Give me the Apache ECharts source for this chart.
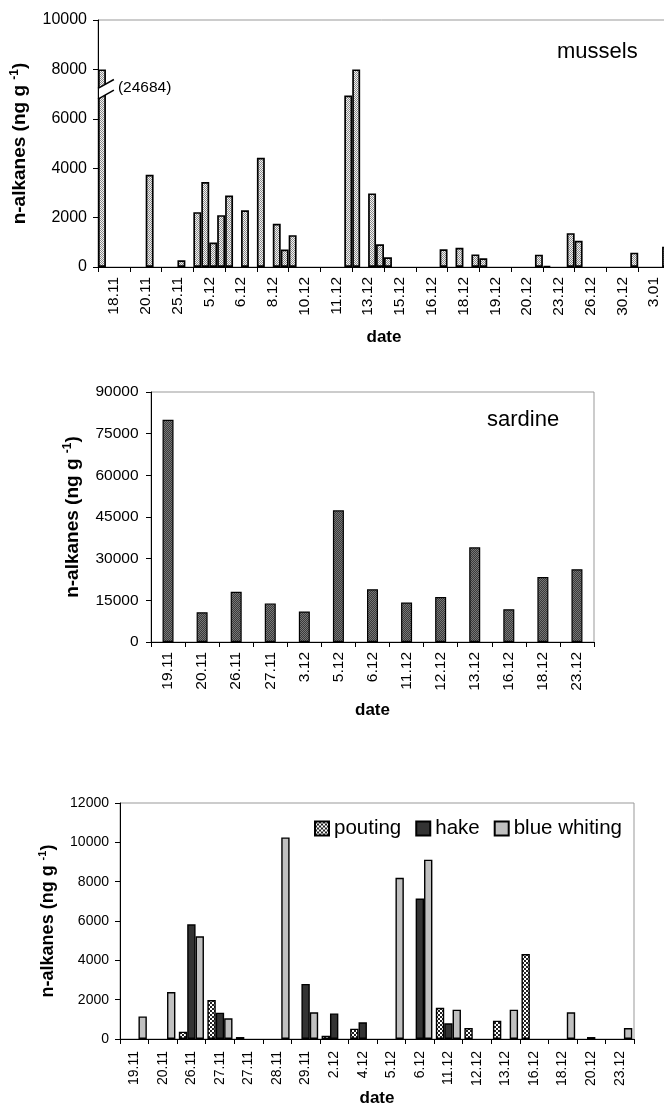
<!DOCTYPE html>
<html>
<head>
<meta charset="utf-8">
<title>n-alkanes</title>
<script src="https://cdn.jsdelivr.net/npm/echarts@6/dist/echarts.min.js"></script>
<style>
html, body { margin: 0; padding: 0; background: #fff; }
#chart { width: 664px; height: 1112px; }
</style>
</head>
<body>
<div id="chart"></div>
<script>
// mussels: four samples per date
var musselDates = ['18.11', '20.11', '25.11', '5.12', '6.12', '8.12', '10.12', '11.12', '13.12',
  '15.12', '16.12', '18.12', '19.12', '20.12', '23.12', '26.12', '30.12', '3.01'];
var musselA = [24684, null, null, 2220, 2890, 4420, 1290, null, 8000, 390, null, null, 350, null, 40, 1060, null, null];
var musselB = [null, null, null, 3440, null, null, null, null, null, null, null, 780, null, null, null, null, null, null];
var musselC = [null, 3730, 270, 990, 2300, 1750, null, null, 2980, null, null, null, null, null, null, null, null, null];
var musselD = [null, null, null, 2100, null, 710, null, 6940, 920, null, 720, 510, null, 500, 1370, null, 580, 820];
var musselCut = 8000; // bars above this are drawn broken

// sardine
var sardineDates = ['19.11', '20.11', '26.11', '27.11', '3.12', '5.12', '6.12', '11.12', '12.12', '13.12', '16.12', '18.12', '23.12'];
var sardineValues = [80000, 10700, 18100, 13900, 11000, 47400, 19000, 14200, 16200, 34100, 11800, 23400, 26200];

// pouting, hake, blue whiting
var fishDates = ['19.11', '20.11', '26.11', '27.11', '27.11', '28.11', '29.11', '2.12', '4.12', '5.12',
  '6.12', '11.12', '12.12', '13.12', '16.12', '18.12', '20.12', '23.12'];
var pouting = [null, null, 370, 1980, 100, null, null, 170, 525, null, null, 1590, 560, 930, 4320, null, null, null];
var hake = [null, null, 5830, 1340, null, null, 2800, 1300, 850, null, 7140, 800, null, null, null, null, 100, null];
var blueWhiting = [1150, 2390, 5220, 1050, null, 10250, 1360, null, null, 8200, 9120, 1490, null, 1490, null, 1360, null, 560];

var FONT = '"Liberation Sans", Arial, sans-serif';

function checker(c1, c2, cell) {
  var cv = document.createElement('canvas');
  cv.width = cv.height = cell * 2;
  var ctx = cv.getContext('2d');
  ctx.fillStyle = c1;
  ctx.fillRect(0, 0, cell * 2, cell * 2);
  ctx.fillStyle = c2;
  ctx.fillRect(0, 0, cell, cell);
  ctx.fillRect(cell, cell, cell, cell);
  return { image: cv, repeat: 'repeat' };
}

var musselFill = checker('#f2f2f2', '#8a8a8a', 1);
var sardineFill = checker('#3a3a3a', '#777777', 1);
var poutingFill = checker('#ffffff', '#222222', 2);

function valueAxis(grid, max, step, size, margin, gap, nameSize) {
  return {
    type: 'value', gridIndex: grid, min: 0, max: max, interval: step,
    name: 'n-alkanes (ng g {sup|-1})',
    nameLocation: 'middle', nameRotate: 90, nameGap: gap,
    nameTextStyle: {
      fontFamily: FONT, fontWeight: 'bold', fontSize: nameSize, color: '#000', lineHeight: nameSize + 4,
      rich: { sup: { fontFamily: FONT, fontWeight: 'bold', fontSize: Math.round(nameSize * 0.62), color: '#000', verticalAlign: 'top', lineHeight: 12 } }
    },
    axisLine: { show: true, lineStyle: { color: '#000', width: 1 } },
    axisTick: { show: true, length: 5, lineStyle: { color: '#000' } },
    axisLabel: {
      fontFamily: FONT, fontSize: size, color: '#000', margin: margin,
      formatter: function (v) { return String(v); }
    },
    splitLine: { show: false }
  };
}

function dateAxis(grid, data, size, margin, gap) {
  return {
    type: 'category', gridIndex: grid, data: data, boundaryGap: true,
    name: 'date', nameLocation: 'middle', nameGap: gap,
    nameTextStyle: { fontFamily: FONT, fontWeight: 'bold', fontSize: 17, color: '#000' },
    axisLine: { show: true, lineStyle: { color: '#000', width: 1 } },
    axisTick: { show: true, length: 5, interval: 0, lineStyle: { color: '#000' } },
    axisLabel: { interval: 0, rotate: 90, fontFamily: FONT, fontSize: size, color: '#000', margin: margin }
  };
}

function musselBar(values) {
  return {
    type: 'bar', xAxisIndex: 0, yAxisIndex: 0,
    data: values.map(function (v) { return v === null ? null : Math.min(v, musselCut); }),
    barGap: '0%', barCategoryGap: '0%',
    itemStyle: { color: musselFill, borderColor: '#000', borderWidth: 1.7 }
  };
}

var chart = echarts.init(document.getElementById('chart'));

chart.setOption({
  animation: false,
  backgroundColor: '#fff',
  title: [
    { text: 'mussels', left: 557, top: 41, padding: 0, textStyle: { fontFamily: FONT, fontSize: 22, fontWeight: 'normal', color: '#000' } },
    { text: 'sardine', left: 487, top: 409, padding: 0, textStyle: { fontFamily: FONT, fontSize: 22, fontWeight: 'normal', color: '#000' } }
  ],
  legend: {
    data: ['pouting', 'hake', 'blue whiting'],
    left: 314, top: 818, padding: 0, itemGap: 14,
    icon: 'rect', itemWidth: 14, itemHeight: 14,
    textStyle: { fontFamily: FONT, fontSize: 20.5, color: '#000' }
  },
  grid: [
    { left: 98, top: 20, width: 572, height: 247, show: true, borderColor: '#999', borderWidth: 1, outerBoundsMode: 'none' },
    { left: 151, top: 392, width: 443, height: 250, show: true, borderColor: '#999', borderWidth: 1, outerBoundsMode: 'none' },
    { left: 120, top: 803, width: 514, height: 236, show: true, borderColor: '#999', borderWidth: 1, outerBoundsMode: 'none' }
  ],
  xAxis: [
    dateAxis(0, musselDates, 15.5, 10, 62),
    dateAxis(1, sardineDates, 15.5, 10, 60),
    dateAxis(2, fishDates, 14, 12, 47)
  ],
  yAxis: [
    valueAxis(0, 10000, 2000, 16, 11, 62, 19),
    valueAxis(1, 90000, 15000, 15.5, 12.5, 64, 19),
    valueAxis(2, 12000, 2000, 14, 11, 58, 18)
  ],
  series: [
    musselBar(musselA),
    musselBar(musselB),
    musselBar(musselC),
    musselBar(musselD),
    {
      type: 'bar', xAxisIndex: 1, yAxisIndex: 1, data: sardineValues, barWidth: 11,
      itemStyle: { color: sardineFill, borderColor: '#000', borderWidth: 1.2 }
    },
    {
      name: 'pouting', type: 'bar', xAxisIndex: 2, yAxisIndex: 2, data: pouting,
      barGap: '0%', barCategoryGap: '12%',
      itemStyle: { color: poutingFill, borderColor: '#000', borderWidth: 1.4 }
    },
    {
      name: 'hake', type: 'bar', xAxisIndex: 2, yAxisIndex: 2, data: hake,
      barGap: '0%', barCategoryGap: '12%',
      itemStyle: { color: '#333333', borderColor: '#000', borderWidth: 1.4 }
    },
    {
      name: 'blue whiting', type: 'bar', xAxisIndex: 2, yAxisIndex: 2, data: blueWhiting,
      barGap: '0%', barCategoryGap: '12%',
      itemStyle: { color: '#c0c0c0', borderColor: '#000', borderWidth: 1.4 }
    }
  ]
});

// axis break marks and true value for the cut mussel bar
var c0 = chart.convertToPixel({ xAxisIndex: 0, yAxisIndex: 0 }, [0, 0]);
var c1 = chart.convertToPixel({ xAxisIndex: 0, yAxisIndex: 0 }, [1, 0]);
var band = c1[0] - c0[0];
var bx0 = c0[0] - band / 2;
var bx1 = c0[0];
var rise = 360;
function breakY(base, x) {
  return chart.convertToPixel({ yAxisIndex: 0 }, base + (x - bx0) / (bx1 - bx0) * rise);
}
var lowBase = 6800, highBase = 7230;
var gx0 = bx0 + 1, gx1 = bx0 + band / 4 + 1;
chart.setOption({
  graphic: [
    {
      type: 'polygon', z: 100,
      shape: { points: [[gx0, breakY(lowBase, gx0)], [gx1, breakY(lowBase, gx1)], [gx1, breakY(highBase, gx1)], [gx0, breakY(highBase, gx0)]] },
      style: { fill: '#fff' }
    },
    {
      type: 'line', z: 101,
      shape: { x1: bx0, y1: breakY(lowBase, bx0), x2: bx1, y2: breakY(lowBase, bx1) },
      style: { stroke: '#000', lineWidth: 1.5 }
    },
    {
      type: 'line', z: 101,
      shape: { x1: bx0, y1: breakY(highBase, bx0), x2: bx1, y2: breakY(highBase, bx1) },
      style: { stroke: '#000', lineWidth: 1.5 }
    },
    {
      type: 'text', z: 101,
      x: bx1 + 4, y: chart.convertToPixel({ yAxisIndex: 0 }, 7250),
      style: {
        text: '(' + musselA[0] + ')', fill: '#000',
        font: '15.5px ' + FONT, textAlign: 'left', textVerticalAlign: 'middle'
      }
    }
  ]
});
</script>
</body>
</html>
